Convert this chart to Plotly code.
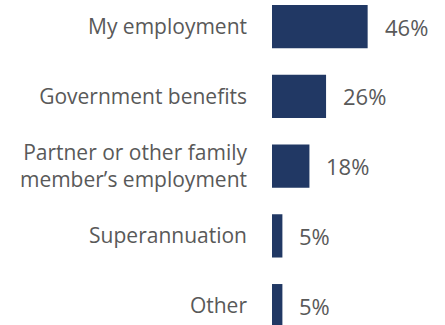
import plotly.graph_objects as go

# Main source of income, share of respondents
categories = [
    "My employment",
    "Government benefits",
    "Partner or other family<br>member’s employment",
    "Superannuation",
    "Other",
]
values = [46, 26, 18, 5, 5]
value_labels = ["46%", "26%", "18%", "5%", "5%"]

BAR_COLOR = "#213864"
TEXT_COLOR = "#595959"
FONT = "Open Sans"

fig = go.Figure(
    go.Bar(
        x=values,
        y=categories,
        orientation="h",
        marker=dict(color=BAR_COLOR, line=dict(width=0)),
        width=0.62,
        hoverinfo="skip",
    )
)

for cat, val, lab in zip(categories, values, value_labels):
    fig.add_annotation(
        x=val, y=cat, text=lab, showarrow=False,
        xanchor="left", yanchor="middle", xshift=15,
        font=dict(family=FONT, size=22, color=TEXT_COLOR),
    )

fig.update_layout(
    width=445, height=325,
    margin=dict(l=272, r=0, t=0, b=0),
    paper_bgcolor="white", plot_bgcolor="white",
    showlegend=False,
    font=dict(family=FONT, size=21, color=TEXT_COLOR),
)
fig.update_xaxes(range=[0, 83.2], visible=False, fixedrange=True)
fig.update_yaxes(
    range=[4.277, -0.38], showgrid=False, zeroline=False, showline=False,
    ticks="", ticklabelstandoff=24, fixedrange=True,
    tickfont=dict(family=FONT, size=21, color=TEXT_COLOR),
)

fig.write_html("out.html", config={"displayModeBar": False})
